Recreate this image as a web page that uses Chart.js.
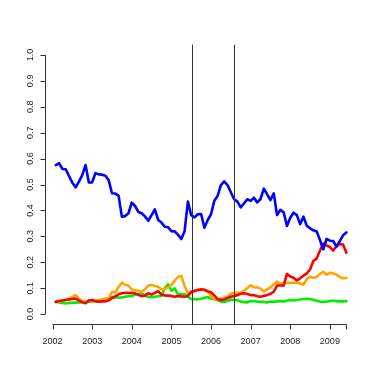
<!DOCTYPE html>
<html>
<head>
<meta charset="utf-8">
<script src="https://cdn.jsdelivr.net/npm/chart.js@4"></script>
<style>
  body { margin: 0; background: #fff; }
  #wrap { width: 381px; height: 381px; }
</style>
</head>
<body>
<div id="wrap"><canvas id="canvas" width="381" height="381"></canvas></div>
<script>
// monthly series, Feb 2002 .. Jun 2009
const firstYear = 2002;
const firstMonth = 2;

const blueValues = [
  0.575, 0.582, 0.560, 0.559, 0.533, 0.507, 0.489, 0.511, 0.536, 0.575,
  0.508, 0.508, 0.544, 0.539, 0.538, 0.534, 0.517, 0.466, 0.465, 0.457,
  0.376, 0.378, 0.389, 0.430, 0.417, 0.394, 0.389, 0.377, 0.360, 0.382,
  0.404, 0.363, 0.353, 0.337, 0.335, 0.320, 0.319, 0.306, 0.290, 0.320,
  0.434, 0.382, 0.373, 0.385, 0.386, 0.333, 0.363, 0.385, 0.437, 0.456,
  0.498, 0.512, 0.498, 0.470, 0.443, 0.434, 0.412, 0.427, 0.443, 0.437,
  0.449, 0.431, 0.444, 0.484, 0.462, 0.440, 0.466, 0.382, 0.402, 0.393,
  0.340, 0.372, 0.391, 0.382, 0.347, 0.376, 0.341, 0.331, 0.323, 0.319,
  0.286, 0.250, 0.290, 0.283, 0.282, 0.260, 0.281, 0.304, 0.315
];

const redValues = [
  0.047, 0.050, 0.052, 0.054, 0.056, 0.058, 0.060, 0.052, 0.046, 0.042,
  0.052, 0.054, 0.049, 0.048, 0.049, 0.049, 0.052, 0.064, 0.068, 0.076,
  0.080, 0.082, 0.081, 0.082, 0.080, 0.074, 0.069, 0.072, 0.080, 0.075,
  0.082, 0.088, 0.075, 0.072, 0.071, 0.070, 0.067, 0.070, 0.068, 0.067,
  0.070, 0.086, 0.090, 0.093, 0.096, 0.094, 0.088, 0.084, 0.072, 0.058,
  0.054, 0.056, 0.062, 0.067, 0.070, 0.073, 0.078, 0.080, 0.077, 0.073,
  0.073, 0.069, 0.067, 0.070, 0.073, 0.078, 0.086, 0.110, 0.110, 0.110,
  0.155, 0.145, 0.140, 0.130, 0.138, 0.148, 0.157, 0.172, 0.205, 0.214,
  0.245, 0.272, 0.265, 0.258, 0.245, 0.262, 0.270, 0.268, 0.237
];

const orangeValues = [
  0.047, 0.048, 0.052, 0.055, 0.060, 0.066, 0.073, 0.060, 0.049, 0.046,
  0.052, 0.054, 0.053, 0.054, 0.056, 0.060, 0.060, 0.085, 0.083, 0.105,
  0.121, 0.113, 0.109, 0.095, 0.092, 0.090, 0.086, 0.095, 0.110, 0.112,
  0.108, 0.105, 0.095, 0.097, 0.103, 0.112, 0.129, 0.143, 0.147, 0.108,
  0.080, 0.082, 0.086, 0.092, 0.094, 0.093, 0.087, 0.070, 0.059, 0.056,
  0.060, 0.063, 0.067, 0.078, 0.082, 0.082, 0.083, 0.090, 0.100, 0.111,
  0.104, 0.103, 0.098, 0.087, 0.095, 0.103, 0.114, 0.125, 0.117, 0.121,
  0.120, 0.121, 0.121, 0.120, 0.118, 0.113, 0.134, 0.144, 0.140, 0.143,
  0.155, 0.163, 0.152, 0.159, 0.157, 0.152, 0.143, 0.138, 0.140
];

const greenValues = [
  0.047, 0.045, 0.043, 0.041, 0.043, 0.043, 0.044, 0.045, 0.045, 0.047,
  0.048, 0.049, 0.050, 0.052, 0.054, 0.054, 0.057, 0.060, 0.064, 0.064,
  0.064, 0.067, 0.069, 0.070, 0.074, 0.078, 0.080, 0.070, 0.067, 0.065,
  0.067, 0.069, 0.070, 0.100, 0.115, 0.090, 0.099, 0.075, 0.076, 0.077,
  0.067, 0.058, 0.057, 0.057, 0.059, 0.063, 0.066, 0.060, 0.057, 0.053,
  0.048, 0.047, 0.050, 0.056, 0.055, 0.053, 0.048, 0.046, 0.045, 0.050,
  0.050, 0.048, 0.047, 0.047, 0.045, 0.048, 0.047, 0.049, 0.050, 0.048,
  0.051, 0.054, 0.052, 0.054, 0.056, 0.058, 0.059, 0.058, 0.055, 0.051,
  0.048, 0.047, 0.048, 0.050, 0.051, 0.050, 0.049, 0.049, 0.050
];

const yearTicks = [2002, 2003, 2004, 2005, 2006, 2007, 2008, 2009];
const valueTicks = [0, 0.1, 0.2, 0.3, 0.4, 0.5, 0.6, 0.7, 0.8, 0.9, 1.0];
const markerYears = [2005.51, 2006.585];

function toPoints(values) {
  return values.map((v, i) => ({ x: firstYear + (firstMonth - 1 + i) / 12, y: v }));
}

const lastYear = firstYear + (firstMonth - 1 + blueValues.length - 1) / 12;
const axisColor = '#333';
const font = '9px "Liberation Sans", Arial, sans-serif';

// R-style axes drawn off the chart's own scales
const rAxes = {
  id: 'rAxes',
  afterDatasetsDraw(chart) {
    const { ctx, chartArea, scales } = chart;
    const x = scales.x;
    const y = scales.y;
    ctx.save();
    ctx.strokeStyle = axisColor;
    ctx.lineWidth = 1;

    markerYears.forEach((yr) => {
      const px = Math.round(x.getPixelForValue(yr)) + 0.5;
      ctx.beginPath();
      ctx.moveTo(px, chartArea.top);
      ctx.lineTo(px, chartArea.bottom);
      ctx.stroke();
    });

    const axisY = Math.round(chartArea.bottom) + 0.5;
    ctx.beginPath();
    ctx.moveTo(x.getPixelForValue(yearTicks[0]), axisY);
    ctx.lineTo(x.getPixelForValue(lastYear), axisY);
    [...yearTicks, lastYear].forEach((t) => {
      const px = Math.round(x.getPixelForValue(t)) + 0.5;
      ctx.moveTo(px, axisY);
      ctx.lineTo(px, axisY + 5);
    });
    ctx.stroke();

    const axisX = Math.round(chartArea.left) + 0.5;
    ctx.beginPath();
    ctx.moveTo(axisX, y.getPixelForValue(0));
    ctx.lineTo(axisX, y.getPixelForValue(1));
    valueTicks.forEach((t) => {
      const py = Math.round(y.getPixelForValue(t)) + 0.5;
      ctx.moveTo(axisX, py);
      ctx.lineTo(axisX - 5, py);
    });
    ctx.stroke();

    ctx.fillStyle = '#222';
    ctx.font = font;
    ctx.textAlign = 'center';
    ctx.textBaseline = 'middle';
    yearTicks.forEach((t) => {
      ctx.fillText(String(t), x.getPixelForValue(t), axisY + 17);
    });
    valueTicks.forEach((t) => {
      ctx.save();
      ctx.translate(axisX - 15, y.getPixelForValue(t));
      ctx.rotate(-Math.PI / 2);
      ctx.fillText(t.toFixed(1), 0, 0);
      ctx.restore();
    });
    ctx.restore();
  }
};

const canvas = document.getElementById('canvas');

const lineStyle = { borderWidth: 2.6, pointRadius: 0, tension: 0, fill: false, borderJoinStyle: 'round', borderCapStyle: 'round' };

new Chart(canvas, {
  type: 'line',
  data: {
    datasets: [
      { label: 'blue', data: toPoints(blueValues), borderColor: '#0000ff', order: 0, ...lineStyle },
      { label: 'red', data: toPoints(redValues), borderColor: '#ff0000', order: 1, ...lineStyle },
      { label: 'orange', data: toPoints(orangeValues), borderColor: '#ffa500', order: 2, ...lineStyle },
      { label: 'green', data: toPoints(greenValues), borderColor: '#00ee00', order: 3, ...lineStyle },
    ],
  },
  options: {
    responsive: false,
    animation: false,
    layout: { padding: { left: 45, top: 44.6, right: 23, bottom: 56.6 } },
    plugins: { legend: { display: false }, tooltip: { enabled: false } },
    scales: {
      x: { type: 'linear', min: 2001.81, max: 2009.71, display: false },
      y: { type: 'linear', min: -0.04, max: 1.04, display: false },
    },
  },
  plugins: [rAxes],
});
</script>
</body>
</html>
